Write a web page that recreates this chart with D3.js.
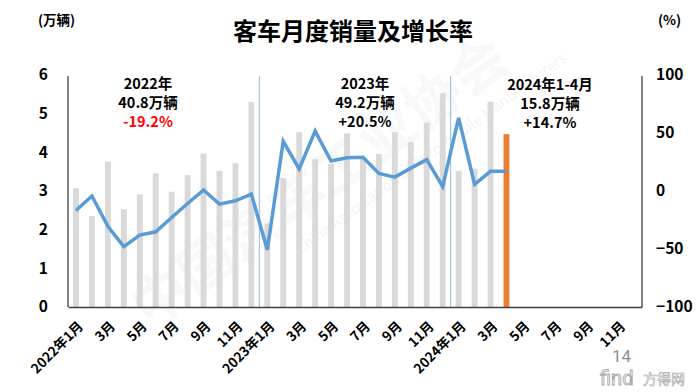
<!DOCTYPE html>
<html><head><meta charset="utf-8">
<script src="https://cdn.jsdelivr.net/npm/d3@7"></script>
<style>
body{margin:0;background:#fff;}
svg{display:block;font-family:"Noto Sans CJK SC","Noto Sans",sans-serif;}
</style>
</head><body>
<svg id="c" width="700" height="392"></svg>
<script>
// ---- data ----
const months = [
  "2022-01","2022-02","2022-03","2022-04","2022-05","2022-06","2022-07","2022-08","2022-09","2022-10","2022-11","2022-12",
  "2023-01","2023-02","2023-03","2023-04","2023-05","2023-06","2023-07","2023-08","2023-09","2023-10","2023-11","2023-12",
  "2024-01","2024-02","2024-03","2024-04","2024-05","2024-06","2024-07","2024-08","2024-09","2024-10","2024-11","2024-12"
];
const tickLabels = [
  "2022年1月","","3月","","5月","","7月","","9月","","11月","",
  "2023年1月","","3月","","5月","","7月","","9月","","11月","",
  "2024年1月","","3月","","5月","","7月","","9月","","11月",""
];
// monthly sales, 万辆
const sales = [
  3.07,2.35,3.76,2.53,2.91,3.46,2.98,3.41,3.97,3.52,3.72,5.30,
  2.16,3.34,4.52,3.82,3.70,4.49,3.85,3.96,4.52,4.26,4.77,5.53,
  3.52,3.58,5.31,4.47
];
// year-on-year growth, %
const growth = [
  -16.8,-4.3,-30.4,-48.0,-38.0,-35.2,-22.8,-10.8,0.9,-11.3,-8.4,-2.6,
  -50.7,42.8,19.0,51.6,25.8,28.7,29.0,15.2,12.0,19.7,27.0,3.8,
  63.0,5.8,17.0,17.0
];
const leftTicks = [0,1,2,3,4,5,6];
const rightTicks = [-100,-50,0,50,100];
const yearNotes = [
  ["2022年","40.8万辆","-19.2%"],
  ["2023年","49.2万辆","+20.5%"],
  ["2024年1-4月","15.8万辆","+14.7%"]
];

// ---- chart ----
const svg = d3.select("#c");
const L = 68, R = 642, T = 76, B = 307;
const x = d3.scaleBand().domain(months).range([L, R]).paddingInner(0.63).paddingOuter(0.315);
const yL = d3.scaleLinear().domain([0, 6]).range([B, 75]);
const yR = d3.scaleLinear().domain([-100, 100]).range([B, 75]);
const bw = x.bandwidth();

// faint watermark (kept fully inside the canvas)
const wm = svg.append("g").attr("fill", "#eef0f5").attr("font-weight", 700);
wm.append("text").attr("transform", "translate(150,330) rotate(-36)")
  .attr("font-size", 56).attr("opacity", 0.45).text("中国汽车工业协会");
wm.append("text").attr("transform", "translate(300,255) rotate(-36)")
  .attr("font-size", 15).attr("font-weight", 400).attr("opacity", 0.7).text("China Association of Automobile Manufacturers");

// bars
svg.append("g").selectAll("rect").data(sales).join("rect")
  .attr("x", (d, i) => x(months[i]))
  .attr("width", bw)
  .attr("y", d => yL(d))
  .attr("height", d => yL(0) - yL(d))
  .attr("fill", (d, i) => i === sales.length - 1 ? "#ed7d31" : "#d9d9d9");

// year separators
[12, 24].forEach(i => {
  const bx = x(months[i]) - (x.step() - bw) / 2;
  svg.append("line").attr("x1", bx).attr("x2", bx).attr("y1", T).attr("y2", B)
    .attr("stroke", "#8fbce6").attr("stroke-width", 1);
});

// growth line
const line = d3.line().x((d, i) => x(months[i]) + bw / 2).y(d => yR(d));
svg.append("path").datum(growth).attr("d", line)
  .attr("fill", "none").attr("stroke", "#5b9bd5").attr("stroke-width", 3.5)
  .attr("stroke-linejoin", "miter");

// axes
const axL = svg.append("g").attr("transform", `translate(${L},0)`)
  .call(d3.axisLeft(yL).tickValues(leftTicks).tickSize(0).tickPadding(20).tickFormat(d3.format("d")));
const axR = svg.append("g").attr("transform", `translate(${R},0)`)
  .call(d3.axisRight(yR).tickValues(rightTicks).tickSize(0).tickPadding(14).tickFormat(d3.format("d")));
const axB = svg.append("g").attr("transform", `translate(0,${B})`)
  .call(d3.axisBottom(x).tickSize(0).tickSizeOuter(0).tickFormat((d, i) => tickLabels[i]));
[axL, axR, axB].forEach(a => {
  a.select(".domain").attr("stroke", "#404040").attr("stroke-width", 1.3);
  a.selectAll("text").attr("fill", "#000").attr("font-size", 15.5).attr("font-weight", 700)
    .attr("font-family", "'Noto Sans CJK SC','Noto Sans',sans-serif");
});
axL.select(".domain").attr("d", `M0,${T}V${B}`);
axR.select(".domain").attr("d", `M0,${T}V${B}`);
axB.selectAll("text")
  .attr("font-size", 13.5)
  .attr("text-anchor", "end")
  .attr("dy", 0)
  .attr("transform", "translate(6,18) rotate(-45)");

// unit labels & title
svg.append("text").attr("x", 38).attr("y", 25).attr("font-size", 13.5).attr("font-weight", 700).text("(万辆)");
svg.append("text").attr("x", 658).attr("y", 25).attr("font-size", 13.5).attr("font-weight", 700).text("(%)");
svg.append("text").attr("x", 353).attr("y", 40).attr("text-anchor", "middle")
  .attr("font-size", 24).attr("font-weight", 700).text("客车月度销量及增长率");

// year annotations
const notePos = [[148, 89], [365, 89], [550, 90]];
yearNotes.forEach((lines, k) => {
  const g = svg.append("text").attr("text-anchor", "middle").attr("font-size", 14.5).attr("font-weight", 700);
  lines.forEach((s, j) => {
    g.append("tspan").attr("x", notePos[k][0]).attr("y", notePos[k][1] + j * 19)
      .attr("fill", (k === 0 && j === 2) ? "#ff0000" : "#000").text(s);
  });
});

// page number and logo
svg.append("text").attr("x", 612).attr("y", 362).attr("font-size", 17).attr("fill", "#8a8f99")
  .attr("font-family", "Roboto, sans-serif").text("14");
svg.append("text").attr("x", 600).attr("y", 385).attr("font-size", 20).attr("fill", "#fff")
  .attr("stroke", "#a8a8a8").attr("stroke-width", 0.9).attr("font-family", "Roboto, sans-serif").text("find");
svg.append("text").attr("x", 643).attr("y", 384).attr("font-size", 14).attr("fill", "#fff")
  .attr("stroke", "#a8a8a8").attr("stroke-width", 0.6).text("方得网");
</script>
</body></html>
